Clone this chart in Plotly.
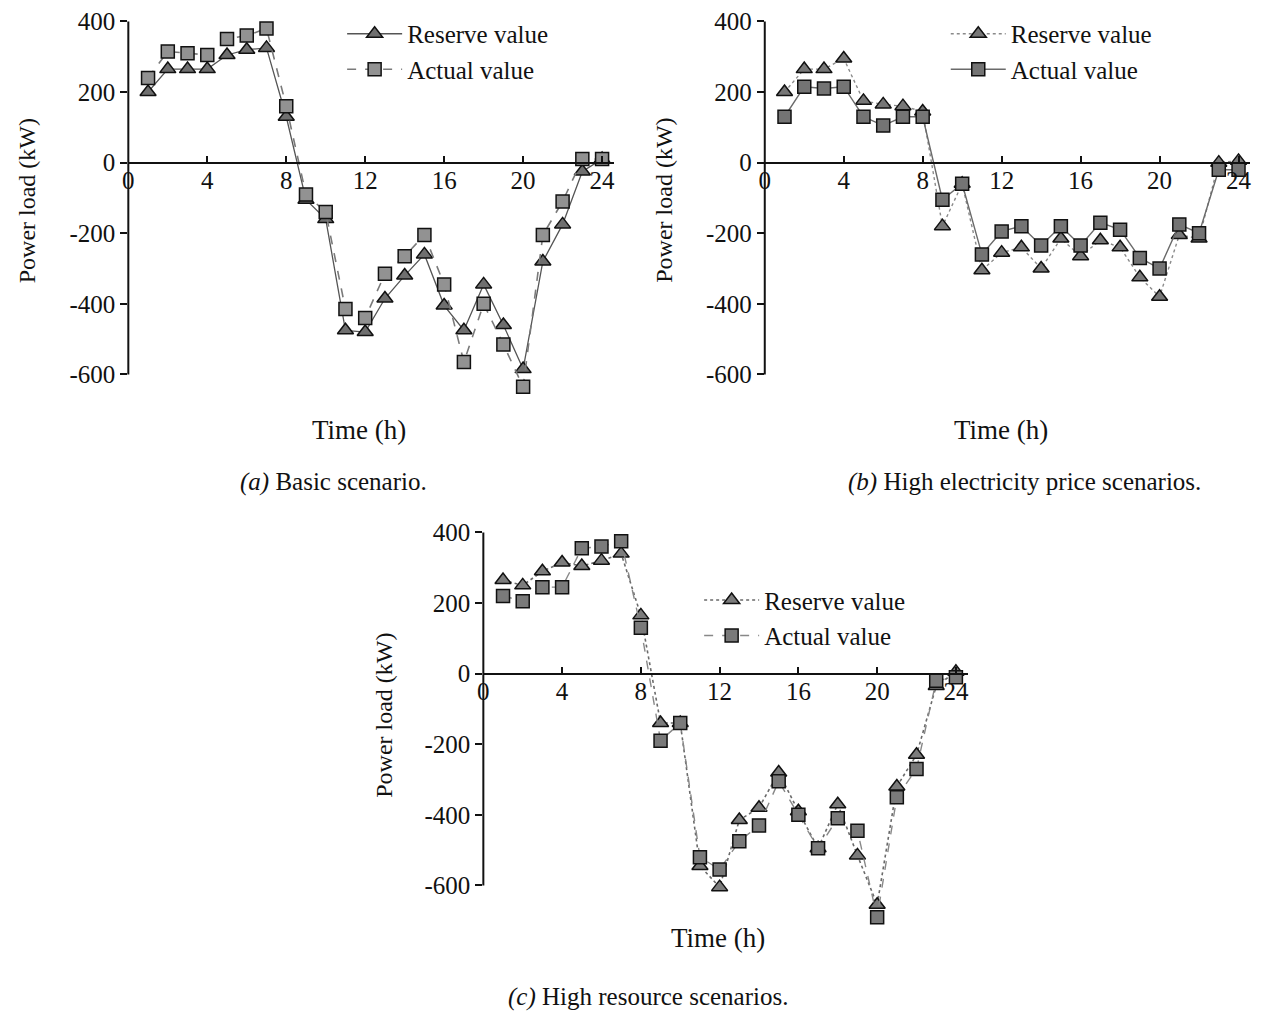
import plotly.graph_objects as go

# ---------------- data ----------------
hours = list(range(1, 25))

a_reserve = [200, 265, 265, 265, 305, 320, 325, 130, -105, -160, -475, -480,
             -385, -320, -260, -405, -475, -345, -460, -585, -280, -175, -25, 10]
a_actual = [240, 315, 310, 305, 350, 360, 380, 160, -90, -140, -415, -440,
            -315, -265, -205, -345, -565, -400, -515, -635, -205, -110, 10, 10]

b_reserve = [200, 265, 265, 295, 175, 165, 160, 145, -180, -60, -305, -255,
             -240, -300, -215, -265, -220, -240, -325, -380, -205, -215, 0, 5]
b_actual = [130, 215, 210, 215, 130, 105, 130, 130, -105, -60, -260, -195,
            -180, -235, -180, -235, -170, -190, -270, -300, -175, -200, -20, -20]

c_reserve = [265, 250, 290, 315, 305, 320, 340, 165, -140, -140, -545, -605,
             -415, -380, -280, -390, -495, -370, -515, -655, -320, -230, -35, 5]
c_actual = [220, 205, 245, 245, 355, 360, 375, 130, -190, -140, -520, -555,
            -475, -430, -305, -400, -495, -410, -445, -690, -350, -270, -20, -10]

x_ticks = [0, 4, 8, 12, 16, 20, 24]
y_ticks = [-600, -400, -200, 0, 200, 400]
series_names = ["Reserve value", "Actual value"]
captions = ["<i>(a)</i> Basic scenario.",
            "<i>(b)</i> High electricity price scenarios.",
            "<i>(c)</i> High resource scenarios."]
x_title = "Time (h)"
y_title = "Power load (kW)"

# ---------------- layout geometry ----------------
W, H = 1263, 1012
FONT = "Liberation Serif, Times New Roman, serif"
YLO, YHI = -720, 430
XMAX = 24.6

panels = [
    # y-axis px, px per hour, px of 400, px of -600
    dict(px0=123, pph=19.85, p400=18.5, pm600=372.5),
    dict(px0=763, pph=19.85, p400=18.5, pm600=372.5),
    dict(px0=480, pph=19.8, p400=531, pm600=885),
]

fig = go.Figure()
layout = dict(width=W, height=H, autosize=False,
              margin=dict(l=0, r=0, t=0, b=0),
              paper_bgcolor="white", plot_bgcolor="white",
              font=dict(family=FONT, size=25, color="#111"),
              showlegend=True)
shapes = []
annotations = []

styles = [
    # (reserve line, reserve fill, actual line, actual fill)
    (dict(color="#555555", width=1.3, dash="solid"), "#6f6f6f",
     dict(color="#7a7a7a", width=1.6, dash="dash"), "#929292"),
    (dict(color="#8a8a8a", width=1.4, dash="dot"), "#777777",
     dict(color="#6a6a6a", width=1.4, dash="solid"), "#747474"),
    (dict(color="#6a6a6a", width=1.6, dash="dot"), "#7c7c7c",
     dict(color="#888888", width=1.4, dash="dash"), "#7a7a7a"),
]
data_sets = [(a_reserve, a_actual), (b_reserve, b_actual), (c_reserve, c_actual)]
legend_pos = [(338, 8), (945, 8), (697, 576)]
xtitle_pos = [(355, 428), (1001, 428), (716, 938)]
ytitle_pos = [(22, 198), (662, 198), (380, 714)]
caption_pos = [(329, 480), (1024, 480), (646, 997)]

for i, (p, st, ds) in enumerate(zip(panels, styles, data_sets)):
    k = "" if i == 0 else str(i + 1)
    ppu = (p["pm600"] - p["p400"]) / 1000.0
    top_px = p["p400"] - (YHI - 400) * ppu
    bot_px = p["pm600"] + (-600 - YLO) * ppu
    zero_px = p["p400"] + 400 * ppu
    xd = [p["px0"] / W, (p["px0"] + p["pph"] * XMAX) / W]
    yd = [1 - bot_px / H, 1 - top_px / H]
    leg = "legend" + k

    fig.add_trace(go.Scatter(
        x=hours, y=ds[0], name=series_names[0], mode="lines+markers",
        xaxis="x" + k, yaxis="y" + k, legend=leg, cliponaxis=False,
        line=st[0],
        marker=dict(symbol="triangle-up", size=14, color=st[1],
                    line=dict(color="#111", width=1.5))))
    fig.add_trace(go.Scatter(
        x=hours, y=ds[1], name=series_names[1], mode="lines+markers",
        xaxis="x" + k, yaxis="y" + k, legend=leg, cliponaxis=False,
        line=st[2],
        marker=dict(symbol="square", size=13, color=st[3],
                    line=dict(color="#111", width=1.5))))

    layout["xaxis" + k] = dict(
        domain=xd, range=[0, XMAX], anchor="free", position=1 - zero_px / H,
        showline=True, linecolor="#111", linewidth=2,
        ticks="inside", ticklen=6, tickwidth=2, tickcolor="#111",
        tickvals=x_ticks, ticktext=[str(v) for v in x_ticks],
        tickfont=dict(family=FONT, size=25, color="#111"),
        showgrid=False, zeroline=False, ticklabelstandoff=-5)
    layout["yaxis" + k] = dict(
        domain=yd, range=[YLO, YHI], anchor="x" + k,
        showline=False, ticks="outside", ticklen=7, tickwidth=2,
        tickcolor="#111", tickvals=y_ticks,
        ticktext=[str(v) for v in y_ticks],
        tickfont=dict(family=FONT, size=25, color="#111"),
        showgrid=False, zeroline=False)
    layout[leg] = dict(
        x=legend_pos[i][0] / W, y=1 - legend_pos[i][1] / H,
        xanchor="left", yanchor="top", bgcolor="rgba(0,0,0,0)",
        font=dict(family=FONT, size=25, color="#111"),
        itemwidth=55, tracegroupgap=0)

    # y-axis spine from -600 to 400
    shapes.append(dict(type="line", xref="paper", yref="paper",
                       x0=p["px0"] / W, x1=p["px0"] / W,
                       y0=1 - p["pm600"] / H, y1=1 - p["p400"] / H,
                       line=dict(color="#111", width=2)))

    annotations.append(dict(text=x_title, xref="paper", yref="paper",
                            x=xtitle_pos[i][0] / W, y=1 - xtitle_pos[i][1] / H,
                            xanchor="center", yanchor="middle", showarrow=False,
                            font=dict(family=FONT, size=27, color="#111")))
    annotations.append(dict(text=y_title, xref="paper", yref="paper",
                            x=ytitle_pos[i][0] / W, y=1 - ytitle_pos[i][1] / H,
                            xanchor="center", yanchor="middle", showarrow=False,
                            textangle=-90,
                            font=dict(family=FONT, size=24, color="#111")))
    annotations.append(dict(text=captions[i], xref="paper", yref="paper",
                            x=caption_pos[i][0] / W, y=1 - caption_pos[i][1] / H,
                            xanchor="center", yanchor="middle", showarrow=False,
                            font=dict(family=FONT, size=25, color="#111")))

layout["shapes"] = shapes
layout["annotations"] = annotations
fig.update_layout(**layout)

fig.write_html("out.html", config={"displayModeBar": False},
               post_script="document.body.style.margin='0';")
